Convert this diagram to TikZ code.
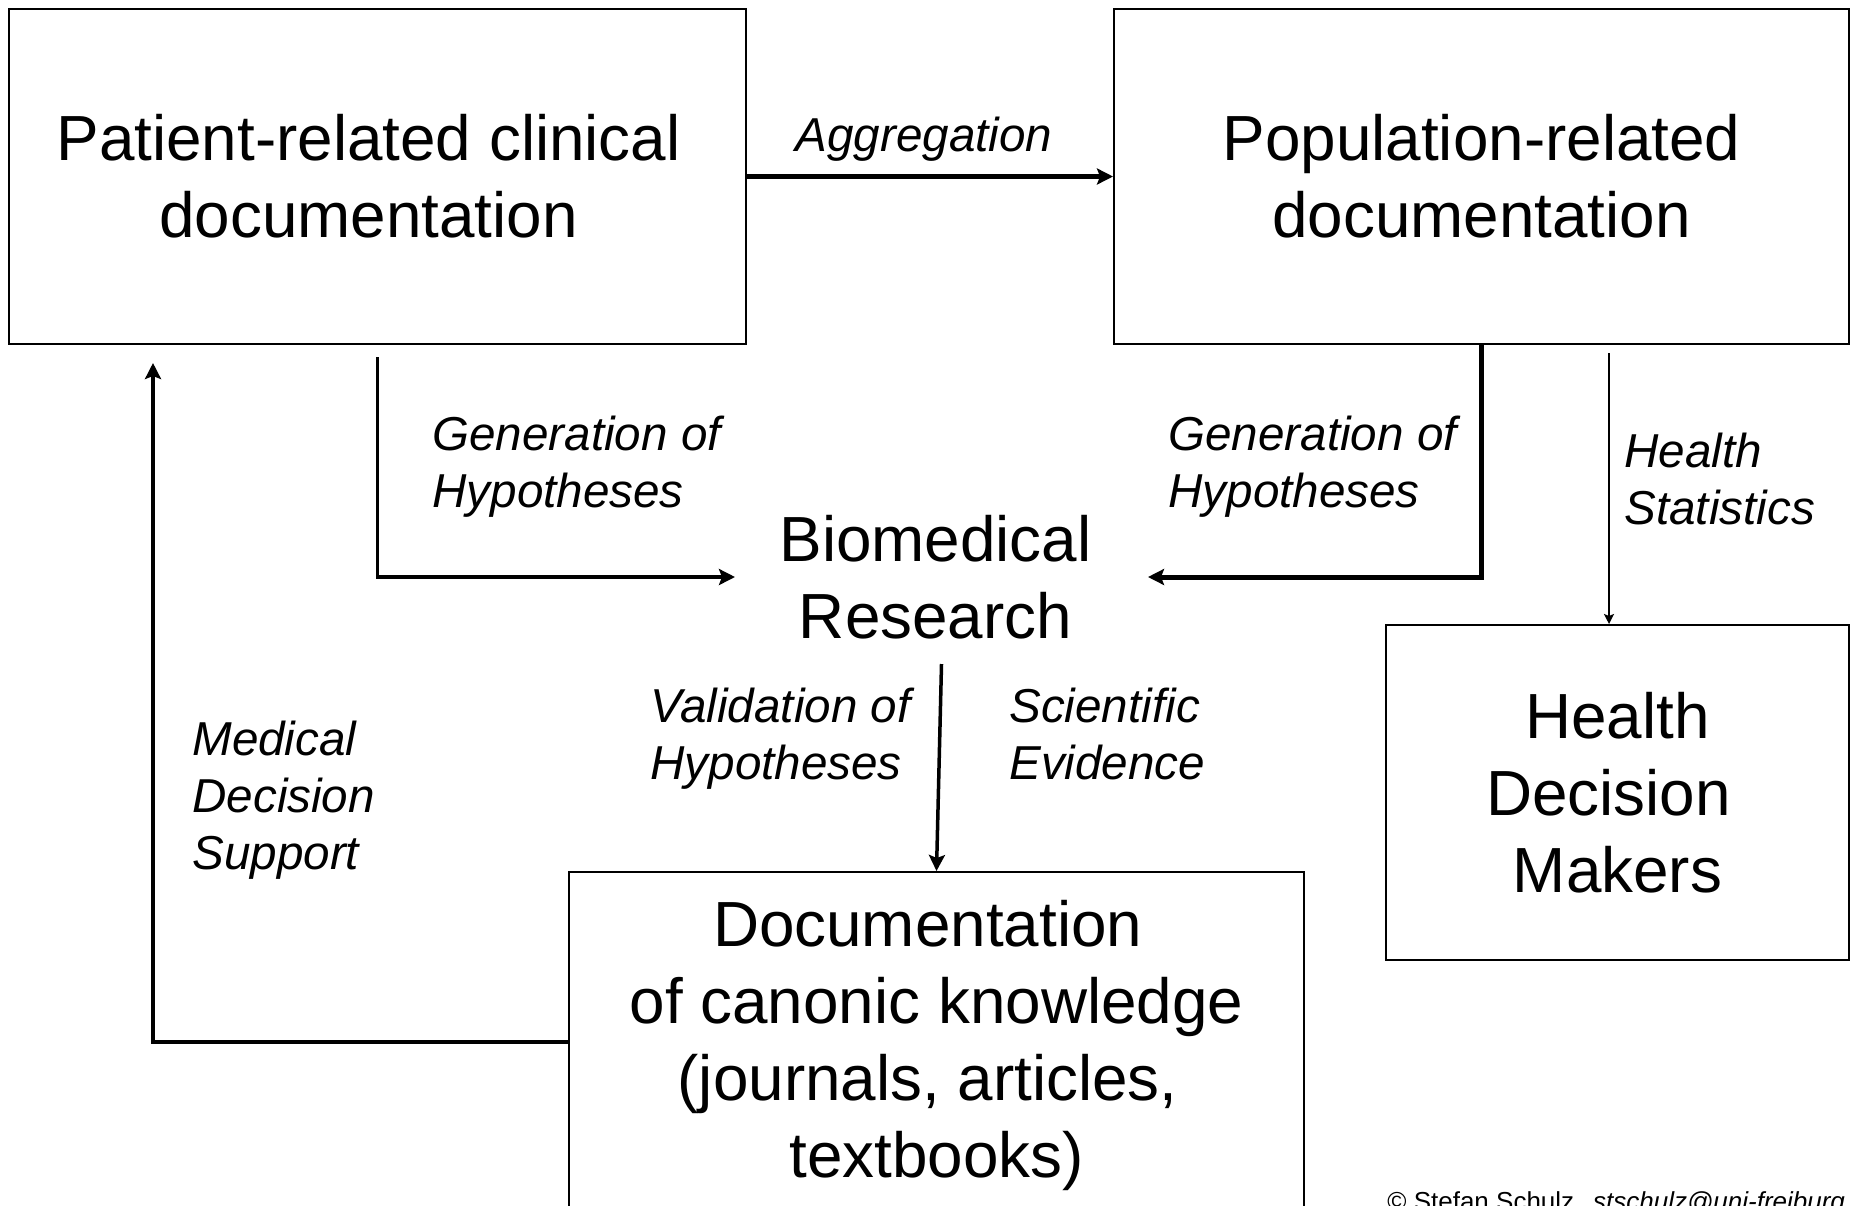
\documentclass[tikz,border=0pt]{standalone}
\usepackage{fontspec}
\setmainfont{Liberation Sans}
\usetikzlibrary{arrows.meta}

% trailing space kept at a line end
\newcommand{\tsp}{\kern.278em}

\tikzset{
  box/.style = {draw, line width = 1pt, align = center, inner sep = 0pt,
                font = \fontsize{31.9}{38.5}\selectfont},
  lbl/.style = {anchor = west, align = left, inner sep = 0pt,
                font = \fontsize{23.8}{28.5}\selectfont\itshape},
  flow/.style = {-{Stealth[length = 8pt, width = 8pt, inset = 1.5pt]}},
  thinflow/.style = {-{Stealth[length = 5pt, width = 5pt, inset = 1pt]}},
}

\begin{document}
\begin{tikzpicture}[x = 0.5pt, y = -0.5pt]
\useasboundingbox (0, 0) rectangle (1856, 1205);
% boxes
\node[box, minimum width = 368.5pt, minimum height = 167.5pt] (pat) at (377.5, 176.5)
  {Patient-related clinical\tsp\\documentation\tsp};
\node[box, minimum width = 367.5pt, minimum height = 167.5pt] (pop) at (1481.5, 176.5)
  {Population-related\\documentation};
\node[box, minimum width = 231.5pt, minimum height = 167.5pt] (hdm) at (1617.5, 792.5)
  {Health\\Decision\tsp\\Makers};
\node[box, minimum width = 367.5pt, minimum height = 173pt] (doc) at (936.5, 1045)
  {Documentation\tsp\\of canonic knowledge\\(journals, articles,\tsp\\textbooks)};
\node[box, draw = none, minimum width = 205.5pt, minimum height = 86pt] (res) at (941.5, 577)
  {Biomedical\hspace*{6pt}\\Research\hspace*{6pt}};
% free ends
\coordinate (hstop) at (1609, 353);
\coordinate (mdstop) at (153, 363);
% arrows
\draw[flow, line width = 2.5pt] (pat.east) -- (pop.west);
\draw[flow, line width = 1.75pt] ([yshift = -6pt]pat.south) |- (res.west);
\draw[flow, line width = 2.5pt] (pop.south) |- (res.east);
\draw[thinflow, line width = 1pt] (hstop) -- (hstop |- hdm.north);
\draw[flow, line width = 1.75pt] (res.south) -- (doc.north);
\draw[flow, line width = 2.25pt] ([yshift = 1.5pt]doc.west) -| (mdstop);
% labels
\node[lbl, anchor = center] (agg) at (924, 139.5) {Aggregation};
\node[lbl] (genl) at (432, 467) {Generation of\\Hypotheses};
\node[lbl] (genr) at (1168, 467) {Generation of\\Hypotheses};
\node[lbl] (hstat) at (1624, 479) {Health\\Statistics};
\node[lbl] (valid) at (650, 739) {Validation of\\Hypotheses};
\node[lbl] (evid) at (1009, 734) {Scientific\\Evidence};
\node[lbl] (mds) at (192, 800) {Medical\\Decision\\Support};
\node[anchor = base west, inner sep = 0pt, font = \fontsize{13}{15}\selectfont] (copy)
  at (1387, 1210) {\textcopyright{} Stefan Schulz\hspace{0.45em} \textit{stschulz@uni-freiburg}};
\end{tikzpicture}
\end{document}
